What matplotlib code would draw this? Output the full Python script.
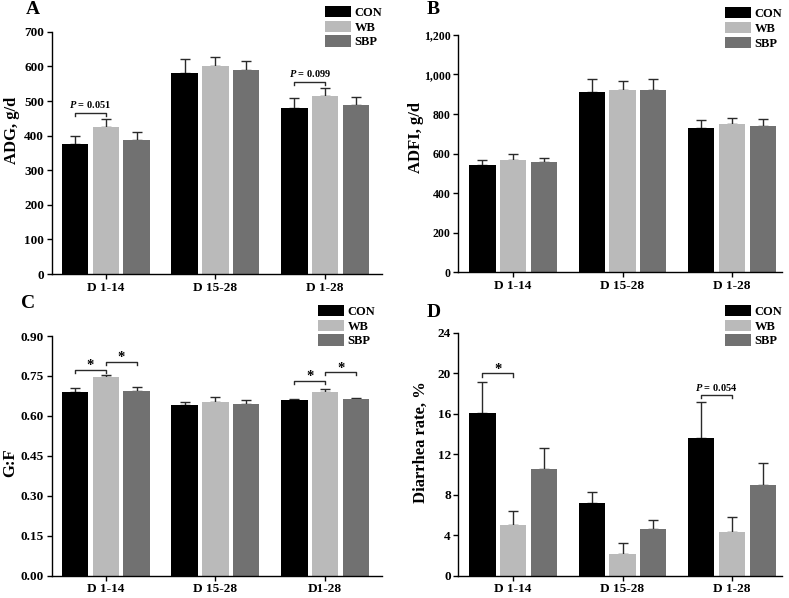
import matplotlib
matplotlib.use("Agg")
import matplotlib.pyplot as plt
import numpy as np
from matplotlib.ticker import FuncFormatter

plt.rcParams['font.family'] = ['Liberation Serif', 'DejaVu Serif']
plt.rcParams['font.weight'] = 'bold'
plt.rcParams['axes.labelweight'] = 'bold'
plt.rcParams['mathtext.fontset'] = 'custom'
plt.rcParams['mathtext.it'] = 'Liberation Serif:italic:bold'
plt.rcParams['mathtext.rm'] = 'Liberation Serif:bold'

# treatments and periods
groups = ['CON', 'WB', 'SBP']
colors = ['#000000', '#bababa', '#717171']
periods = ['D 1-14', 'D 15-28', 'D 1-28']
periods_c = ['D 1-14', 'D 15-28', 'D1-28']

# A: ADG, g/d   (rows = CON, WB, SBP ; cols = periods)
adg = [[376, 582, 479], [424, 602, 514], [386, 591, 489]]
adg_se = [[24, 40, 29], [25, 26, 23], [23, 24, 23]]
# B: ADFI, g/d
adfi = [[545, 910, 728], [568, 924, 748], [556, 922, 740]]
adfi_se = [[25, 69, 44], [32, 42, 32], [24, 54, 35]]
# C: G:F
gf = [[0.690, 0.640, 0.660], [0.745, 0.653, 0.690], [0.692, 0.643, 0.662]]
gf_se = [[0.016, 0.011, 0.005], [0.007, 0.019, 0.011], [0.015, 0.015, 0.006]]
# D: diarrhea rate, %
diar = [[16.07, 7.14, 13.6], [5.0, 2.14, 4.31], [10.53, 4.64, 8.95]]
diar_se = [[3.06, 1.12, 3.55], [1.42, 1.05, 1.52], [2.11, 0.86, 2.15]]

# brackets: (period, group i, group j, height, label)
br_a = [(0, 0, 1, 466, '$P$ = 0.051'), (2, 0, 1, 556, '$P$ = 0.099')]
br_c = [(0, 0, 1, 0.772, '*'), (0, 1, 2, 0.803, '*'),
        (2, 0, 1, 0.732, '*'), (2, 1, 2, 0.764, '*')]
br_d = [(0, 0, 1, 19.98, '*'), (2, 0, 1, 17.84, '$P$ = 0.054')]

step = 0.281
width = 0.24

fig = plt.figure(figsize=(7.89, 5.98), dpi=100)


def panel(rect, vals, errs, ylim, yticks, ylabel, labcoord, xlabels, xlim,
          brackets, letter, letterpos, legpos, yfmt=None, yfs=9.5):
    ax = fig.add_axes(rect)
    x = np.arange(len(xlabels))
    handles = []
    for i, g in enumerate(groups):
        pos = x + (i - 1) * step
        b = ax.bar(pos, vals[i], width, color=colors[i], label=g, zorder=2)
        handles.append(b)
        ax.errorbar(pos, vals[i], yerr=[np.zeros(3), errs[i]], fmt='none',
                    ecolor='#2a2a2a', elinewidth=1.0, capsize=3.6,
                    capthick=1.0, zorder=1)
    ax.set_xlim(*xlim)
    ax.set_ylim(*ylim)
    ax.set_yticks(yticks)
    if yfmt is not None:
        ax.yaxis.set_major_formatter(FuncFormatter(yfmt))
    ax.set_xticks(x)
    ax.set_xticklabels(xlabels, fontsize=9.5, fontweight='bold')
    for t in ax.get_yticklabels():
        t.set_fontsize(yfs)
        t.set_fontweight('bold')
    for s in ['top', 'right']:
        ax.spines[s].set_visible(False)
    for s in ['left', 'bottom']:
        ax.spines[s].set_linewidth(1.0)
    ax.tick_params(axis='both', direction='out', length=3.5, width=1.0, pad=2)
    ax.set_ylabel(ylabel, fontsize=12, fontweight='bold')
    ax.yaxis.set_label_coords(*labcoord)

    dy = 0.013 * ylim[1]
    for p, i, j, h, lab in brackets:
        x1 = p + (i - 1) * step
        x2 = p + (j - 1) * step
        ax.plot([x1, x1, x2, x2], [h - dy, h, h, h - dy], color='#2a2a2a',
                lw=1.0, zorder=3)
        if lab == '*':
            ax.annotate(lab, ((x1 + x2) / 2, h), xytext=(0, 0.5),
                        textcoords='offset points', ha='center',
                        va='baseline', fontsize=10.5, fontweight='bold')
        else:
            ax.annotate(lab, ((x1 + x2) / 2, h), xytext=(0, 3.2),
                        textcoords='offset points', ha='center',
                        va='baseline', fontsize=7.5, fontweight='bold')

    fig.text(letterpos[0], letterpos[1], letter, fontsize=14,
             fontweight='bold', ha='left', va='top')
    ax.legend(handles=handles, loc='upper left', bbox_to_anchor=legpos,
              bbox_transform=fig.transFigure, frameon=False, fontsize=9,
              handlelength=2.05, handleheight=1.0, handletextpad=0.3,
              labelspacing=0.15, borderpad=0, borderaxespad=0)
    return ax


panel([0.0655, 0.5418, 0.419, 0.405], adg, adg_se, (0, 700),
      np.arange(0, 701, 100), 'ADG, g/d', (-0.097, 0.595), periods,
      (-0.493, 2.52), br_a, 'A', (0.033, 0.998), (0.412, 0.99))

panel([0.581, 0.5446, 0.410, 0.397], adfi, adfi_se, (0, 1200),
      np.arange(0, 1201, 200), 'ADFI, g/d', (-0.106, 0.568), periods,
      (-0.50, 2.456), [], 'B', (0.541, 0.998), (0.919, 0.988),
      yfmt=lambda v, p: f'{int(v):,}', yfs=8.5)

panel([0.0655, 0.0373, 0.419, 0.4008], gf, gf_se, (0, 0.9),
      np.arange(0, 0.91, 0.15), 'G:F', (-0.1, 0.47), periods_c,
      (-0.493, 2.52), br_c, 'C', (0.027, 0.507), (0.403, 0.49),
      yfmt=lambda v, p: f'{v:.2f}')

panel([0.581, 0.0373, 0.410, 0.4064], diar, diar_se, (0, 24),
      np.arange(0, 25, 4), 'Diarrhea rate, %', (-0.092, 0.548), periods,
      (-0.50, 2.456), br_d, 'D', (0.541, 0.492), (0.919, 0.49))

fig.savefig('out.png', dpi=100)
